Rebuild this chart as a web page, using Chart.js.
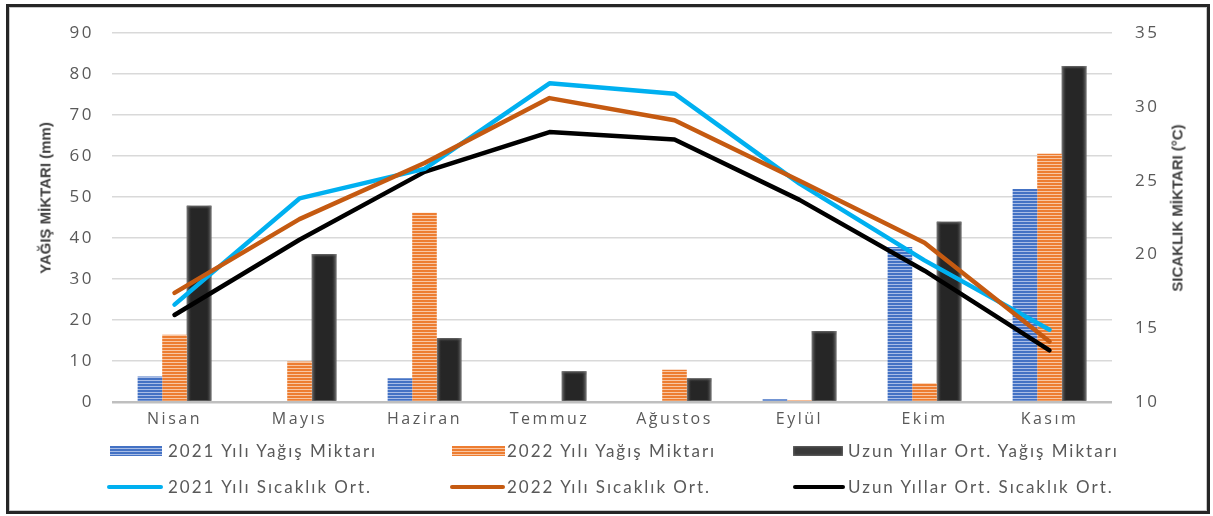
<!DOCTYPE html>
<html>
<head>
<meta charset="utf-8">
<script src="https://cdn.jsdelivr.net/npm/chart.js@4/dist/chart.umd.min.js"></script>
<style>
  html, body { margin: 0; padding: 0; background: #fff; }
  #wrap { position: relative; width: 1213px; height: 516px; overflow: hidden; background: #fff; }
  #frame { position: absolute; left: 6px; top: 4px; width: 1198px; height: 504px;
           border: 3px solid #262626; box-shadow: inset 0 0 0 1px #c8c8c8; pointer-events: none; }
  #chart { position: absolute; left: 0; top: 0; }
  .axis-title { position: absolute; white-space: nowrap; font-family: "Liberation Sans Narrow", "Liberation Sans", sans-serif;
                font-weight: bold; font-size: 15px; color: #404040; transform: translate(-50%, -50%) rotate(-90deg); }
  .lg { position: absolute; font-family: Lato, "Liberation Sans", sans-serif; font-size: 17px; letter-spacing: 2px; color: #595959;
        white-space: nowrap; line-height: 20px; transform: translateY(-50%); }
  .sw { position: absolute; }
</style>
</head>
<body>
<div id="wrap">
  <canvas id="chart" width="1213" height="516"></canvas>
  <div class="axis-title" style="left:45px; top:198px;">YAĞIŞ MİKTARI (mm)</div>
  <div class="axis-title" style="left:1177px; top:208px;">SICAKLIK MİKTARI (°C)</div>
  <div id="legend"></div>
  <div id="frame"></div>
</div>
<script>
// Monthly data, April to November
const months = ['Nisan', 'Mayıs', 'Haziran', 'Temmuz', 'Ağustos', 'Eylül', 'Ekim', 'Kasım'];

// Precipitation (mm)
const rain2021     = [6.2, 0, 5.8, 0, 0, 0.7, 37.8, 52.0];
const rain2022     = [16.4, 9.9, 46.2, 0, 7.9, 0.4, 4.6, 60.6];
const rainLongTerm = [47.9, 36.1, 15.6, 7.5, 5.8, 17.3, 44.0, 82.0];

// Mean temperature (°C)
const temp2021     = [16.6, 23.8, 25.8, 31.6, 30.9, 24.8, 19.6, 14.9];
const temp2022     = [17.4, 22.4, 26.2, 30.6, 29.1, 25.0, 20.8, 14.1];
const tempLongTerm = [15.9, 21.0, 25.6, 28.3, 27.8, 23.7, 18.9, 13.5];

// Legend labels
const seriesNames = [
  '2021 Yılı Yağış Miktarı', '2022 Yılı Yağış Miktarı', 'Uzun Yıllar Ort. Yağış Miktarı',
  '2021 Yılı Sıcaklık Ort.', '2022 Yılı Sıcaklık Ort.', 'Uzun Yıllar Ort. Sıcaklık Ort.'
];

const BLUE = '#4472C4', BLUE_LIGHT = '#a9bde6';
const ORANGE = '#ED7D31', ORANGE_LIGHT = '#f8c6a3';
const DARK = '#262626';
const CYAN = '#00B0F0', RUST = '#C55A11', BLACK = '#000000';

// Horizontal striped fill used for the yearly precipitation bars
function stripes(base, light) {
  const c = document.createElement('canvas');
  c.width = 4; c.height = 3;
  const g = c.getContext('2d');
  g.fillStyle = base; g.fillRect(0, 0, 4, 3);
  g.fillStyle = light; g.fillRect(0, 2, 4, 1);
  return g.createPattern(c, 'repeat');
}
const bluePattern = stripes(BLUE, BLUE_LIGHT);
const orangePattern = stripes(ORANGE, ORANGE_LIGHT);

// Wider tracking for the axis tick labels
const tickTracking = {
  id: 'tickTracking',
  beforeDraw(chart) { chart.ctx.letterSpacing = '2.5px'; },
  afterDraw(chart) { chart.ctx.letterSpacing = '0px'; }
};

// Soft grey edges on the long-term precipitation bars
const softEdges = {
  id: 'softEdges',
  afterDatasetDraw(chart, args) {
    if (args.index !== 2) return;
    const ctx = chart.ctx;
    ctx.save();
    args.meta.data.forEach(el => {
      const { x, y, base, width } = el.getProps(['x', 'y', 'base', 'width'], true);
      const l = x - width / 2, r = x + width / 2, h = base - y;
      if (h <= 0) return;
      const e = 5;
      let g = ctx.createLinearGradient(l, 0, l + e, 0);
      g.addColorStop(0, 'rgba(140,140,140,0.85)');
      g.addColorStop(1, 'rgba(38,38,38,0)');
      ctx.fillStyle = g; ctx.fillRect(l, y, e, h);
      g = ctx.createLinearGradient(r, 0, r - e, 0);
      g.addColorStop(0, 'rgba(140,140,140,0.85)');
      g.addColorStop(1, 'rgba(38,38,38,0)');
      ctx.fillStyle = g; ctx.fillRect(r - e, y, e, h);
      g = ctx.createLinearGradient(0, y, 0, y + 4);
      g.addColorStop(0, 'rgba(140,140,140,0.7)');
      g.addColorStop(1, 'rgba(38,38,38,0)');
      ctx.fillStyle = g; ctx.fillRect(l, y, width, Math.min(4, h));
    });
    ctx.restore();
  }
};

const tickFont = { family: '"Open Sans", sans-serif', size: 16 };
const yTickFont = { family: '"Open Sans", sans-serif', size: 17 };
const tickColor = '#595959';

new Chart(document.getElementById('chart'), {
  data: {
    labels: months,
    datasets: [
      { type: 'bar', label: seriesNames[0], data: rain2021, yAxisID: 'y', backgroundColor: bluePattern, order: 2 },
      { type: 'bar', label: seriesNames[1], data: rain2022, yAxisID: 'y', backgroundColor: orangePattern, order: 2 },
      { type: 'bar', label: seriesNames[2], data: rainLongTerm, yAxisID: 'y', backgroundColor: DARK, order: 2 },
      { type: 'line', label: seriesNames[3], data: temp2021, yAxisID: 'y1', borderColor: CYAN, order: 1 },
      { type: 'line', label: seriesNames[4], data: temp2022, yAxisID: 'y1', borderColor: RUST, order: 0 },
      { type: 'line', label: seriesNames[5], data: tempLongTerm, yAxisID: 'y1', borderColor: BLACK, order: 1 }
    ]
  },
  options: {
    responsive: false,
    animation: false,
    layout: { padding: { top: 28, left: 0, right: 0, bottom: 0 } },
    datasets: {
      bar: { categoryPercentage: 0.59, barPercentage: 1.0, borderWidth: 0 },
      line: { borderWidth: 4.5, pointRadius: 0, tension: 0, fill: false, borderCapStyle: 'round', borderJoinStyle: 'round' }
    },
    plugins: { legend: { display: false }, tooltip: { enabled: false } },
    scales: {
      x: {
        grid: { display: false, drawTicks: false },
        border: { display: false },
        ticks: { font: tickFont, color: tickColor, padding: 8, maxRotation: 0 },
        afterFit: s => { s.height = 114; }
      },
      y: {
        position: 'left', min: 0, max: 90,
        ticks: { stepSize: 10, font: yTickFont, color: tickColor, padding: 18 },
        grid: {
          drawTicks: false,
          color: c => c.tick && c.tick.value === 0 ? '#bfbfbf' : '#d9d9d9',
          lineWidth: c => c.tick && c.tick.value === 0 ? 2.5 : 1.5
        },
        border: { display: false },
        afterFit: s => { s.width = 112; }
      },
      y1: {
        position: 'right', min: 10, max: 35,
        ticks: { stepSize: 5, font: yTickFont, color: tickColor, padding: 23 },
        grid: { display: false, drawTicks: false },
        border: { display: false },
        afterFit: s => { s.width = 101; }
      }
    }
  },
  plugins: [tickTracking, softEdges]
});

// Two-row legend beneath the axis
const legendItems = [
  { kind: 'bar', fill: 'blue',   sx: 110, sw: 52, tx: 168, cy: 451 },
  { kind: 'bar', fill: 'orange', sx: 452, sw: 53, tx: 507, cy: 451 },
  { kind: 'bar', fill: 'dark',   sx: 793, sw: 50, tx: 848, cy: 451 },
  { kind: 'line', color: CYAN,  sx: 107, sw: 56, tx: 168, cy: 487 },
  { kind: 'line', color: RUST,  sx: 450, sw: 55, tx: 507, cy: 487 },
  { kind: 'line', color: BLACK, sx: 793, sw: 52, tx: 848, cy: 487 }
];
const legendBox = document.getElementById('legend');
legendItems.forEach((it, i) => {
  const sw = document.createElement('div');
  sw.className = 'sw';
  sw.style.left = it.sx + 'px';
  sw.style.width = it.sw + 'px';
  if (it.kind === 'bar') {
    sw.style.top = (it.cy - 5) + 'px';
    sw.style.height = '10px';
    if (it.fill === 'blue') sw.style.background = 'repeating-linear-gradient(to bottom,' + BLUE + ' 0 2px,' + BLUE_LIGHT + ' 2px 3px)';
    else if (it.fill === 'orange') sw.style.background = 'repeating-linear-gradient(to bottom,' + ORANGE + ' 0 2px,' + ORANGE_LIGHT + ' 2px 3px)';
    else { sw.style.background = '#3a3a3a'; sw.style.boxShadow = 'inset 0 0 3px #8a8a8a'; }
  } else {
    sw.style.top = (it.cy - 2) + 'px';
    sw.style.height = '4px';
    sw.style.borderRadius = '2px';
    sw.style.background = it.color;
  }
  legendBox.appendChild(sw);
  const t = document.createElement('div');
  t.className = 'lg';
  t.style.left = it.tx + 'px';
  t.style.top = it.cy + 'px';
  t.textContent = seriesNames[i];
  legendBox.appendChild(t);
});
</script>
</body>
</html>
